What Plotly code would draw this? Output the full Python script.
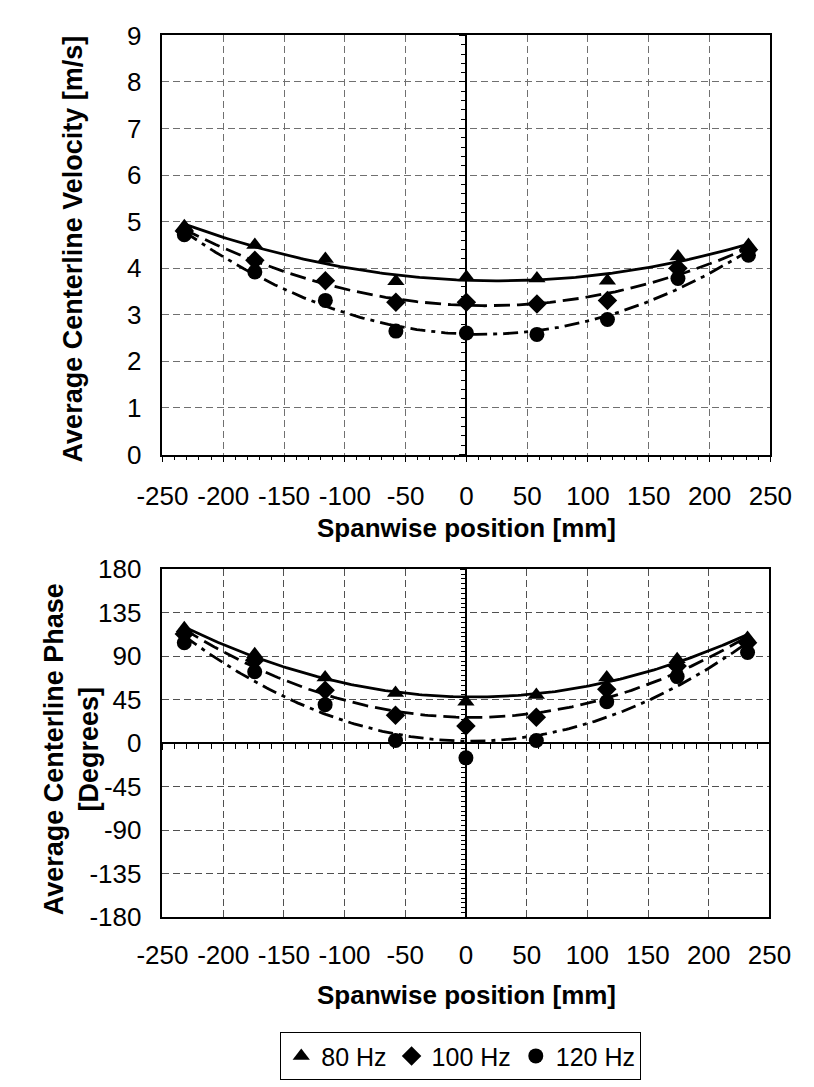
import numpy as np
import plotly.graph_objects as go

# ---------------- data ----------------
x_pos = [-232, -174, -116, -58, 0, 58, 116, 174, 232]
vel_80 = [4.9, 4.5, 4.2, 3.72, 3.81, 3.78, 3.73, 4.25, 4.5]
vel_100 = [4.8, 4.17, 3.73, 3.27, 3.27, 3.23, 3.31, 4.0, 4.4]
vel_120 = [4.72, 3.92, 3.31, 2.65, 2.61, 2.58, 2.9, 3.78, 4.28]
phase_80 = [119, 92, 68, 52, 43, 50, 68, 87, 109]
phase_100 = [113, 86, 55, 29, 18, 27, 56, 80, 104]
phase_120 = [104, 74, 40, 3, -15, 3, 43, 69, 94]
series_names = ["80 Hz", "100 Hz", "120 Hz"]
x_ticks = [-250, -200, -150, -100, -50, 0, 50, 100, 150, 200, 250]
vel_ticks = [0, 1, 2, 3, 4, 5, 6, 7, 8, 9]
phase_ticks = [-180, -135, -90, -45, 0, 45, 90, 135, 180]

# ---------------- styling ----------------
W, H = 814, 1087
FONT = "Liberation Sans, Arial, sans-serif"
symbols = ["triangle-up", "diamond", "circle"]
msizes = [15, 15, 15]
dashes = ["solid", "16px,7px", "15px,6px,4px,6px"]
GRID_TOP = "#707070"
GRID_BOT = "#505050"

def px(xp):
    return xp / W

def py(yp):
    return 1 - yp / H

def lbl(v):
    return str(v)  # plain hyphen-minus like the original

top_dx = [px(145), px(791)]
top_dy = [py(452), py(21)]
bot_dx = [px(145), px(790)]
bot_dy = [py(928), py(570)]

fig = go.Figure()

xfit = np.linspace(min(x_pos), max(x_pos), 200)

def add_series(vals_list, xa, ya, legend):
    for i, vals in enumerate(vals_list):
        coef = np.polyfit(x_pos, vals, 2)
        fig.add_trace(go.Scatter(
            x=xfit, y=np.polyval(coef, xfit), mode="lines",
            line=dict(color="black", width=2.8, dash=dashes[i]),
            xaxis=xa, yaxis=ya, showlegend=False, hoverinfo="skip"))
        fig.add_trace(go.Scatter(
            x=x_pos, y=vals, mode="markers", name=series_names[i],
            marker=dict(symbol=symbols[i], size=msizes[i], color="black"),
            xaxis=xa, yaxis=ya, showlegend=legend))

add_series([vel_80, vel_100, vel_120], "x", "y", True)
add_series([phase_80, phase_100, phase_120], "x2", "y2", False)

# empty traces to register the crossing-axis overlays
fig.add_trace(go.Scatter(x=[None], y=[None], xaxis="x", yaxis="y3", showlegend=False, hoverinfo="skip"))
fig.add_trace(go.Scatter(x=[None], y=[None], xaxis="x3", yaxis="y2", showlegend=False, hoverinfo="skip"))
fig.add_trace(go.Scatter(x=[None], y=[None], xaxis="x2", yaxis="y4", showlegend=False, hoverinfo="skip"))

tickfont = dict(family=FONT, size=26, color="black")

def common_x(grid):
    return dict(range=[-250, 250], tickvals=x_ticks, ticktext=[lbl(v) for v in x_ticks],
                showgrid=True, gridcolor=grid, griddash="7px,4px", gridwidth=1,
                showline=True, linecolor="black", linewidth=1.5, mirror=True,
                tickfont=tickfont, fixedrange=True)

fig.update_layout(
    width=W, height=H, margin=dict(l=0, r=0, t=0, b=0),
    paper_bgcolor="white", plot_bgcolor="white",
    font=dict(family=FONT, color="black"),
    showlegend=True,
    legend=dict(orientation="h", x=px(462), xanchor="center", y=py(1046), yanchor="top",
                bordercolor="black", borderwidth=1, font=dict(family=FONT, size=25),
                itemwidth=30, tracegroupgap=0, bgcolor="white"),
    xaxis=dict(domain=top_dx, anchor="y", zeroline=True, zerolinecolor="black", zerolinewidth=1.5,
               ticks="outside", ticklen=6, tickcolor="black",
               minor=dict(dtick=10, ticks="outside", ticklen=4, tickcolor="black", showgrid=False),
               ticklabelstandoff=12, **common_x(GRID_TOP)),
    yaxis=dict(domain=top_dy, anchor="x", range=[0, 9], tickvals=vel_ticks,
               ticktext=[lbl(v) for v in vel_ticks], showgrid=True,
               gridcolor=GRID_TOP, griddash="7px,4px", showline=True, linecolor="black", linewidth=1.5,
               mirror=True, zeroline=False, tickfont=tickfont, ticklabelstandoff=14, fixedrange=True),
    yaxis3=dict(overlaying="y", anchor="free", position=top_dx[0] + 0.5 * (top_dx[1] - top_dx[0]),
                range=[0, 9], tickvals=vel_ticks, showticklabels=False, showgrid=False, zeroline=False,
                showline=False, ticks="outside", ticklen=7, tickcolor="black",
                minor=dict(dtick=0.2, ticks="outside", ticklen=5, tickcolor="black"), fixedrange=True),
    xaxis2=dict(domain=bot_dx, anchor="y2", zeroline=True, zerolinecolor="black", zerolinewidth=1.5,
                ticks="", ticklabelstandoff=14, **common_x(GRID_BOT)),
    yaxis2=dict(domain=bot_dy, anchor="x2", range=[-180, 180], tickvals=phase_ticks,
                ticktext=[lbl(v) for v in phase_ticks], showgrid=True,
                gridcolor=GRID_BOT, griddash="7px,4px", showline=True, linecolor="black", linewidth=1.5,
                mirror=True, zeroline=True, zerolinecolor="black", zerolinewidth=1.5,
                tickfont=tickfont, ticklabelstandoff=14, fixedrange=True),
    xaxis3=dict(overlaying="x2", anchor="free", position=bot_dy[0] + 0.5 * (bot_dy[1] - bot_dy[0]),
                side="bottom", range=[-250, 250], tickvals=x_ticks, showticklabels=False,
                showgrid=False, zeroline=False, showline=False, ticks="outside", ticklen=6,
                tickcolor="black",
                minor=dict(dtick=10, ticks="outside", ticklen=5, tickcolor="black"), fixedrange=True),
    yaxis4=dict(overlaying="y2", anchor="free", position=bot_dx[0] + 0.5 * (bot_dx[1] - bot_dx[0]),
                range=[-180, 180], tickvals=phase_ticks, showticklabels=False, showgrid=False,
                zeroline=False, showline=False, ticks="outside", ticklen=6, tickcolor="black",
                minor=dict(dtick=5, ticks="outside", ticklen=5, tickcolor="black"), fixedrange=True),
)

xt_font = dict(family=FONT, size=26, color="black", weight="bold")
yt_font = dict(family=FONT, size=27, color="black", weight="bold")
annotations = [
    dict(text="Spanwise position [mm]", x=px(468), y=py(528), xref="paper", yref="paper",
         showarrow=False, font=xt_font, xanchor="center", yanchor="middle"),
    dict(text="Spanwise position [mm]", x=px(468), y=py(1008), xref="paper", yref="paper",
         showarrow=False, font=xt_font, xanchor="center", yanchor="middle"),
    dict(text="Average Centerline Velocity [m/s]", x=px(50), y=py(241), xref="paper", yref="paper",
         showarrow=False, font=yt_font, textangle=-90, xanchor="center", yanchor="middle"),
    dict(text="Average Centerline Phase<br>[Degrees]", x=px(48), y=py(755), xref="paper", yref="paper",
         showarrow=False, font=yt_font, textangle=-90, xanchor="center", yanchor="middle"),
]
fig.update_layout(annotations=annotations)

fig.write_html("out.html")
